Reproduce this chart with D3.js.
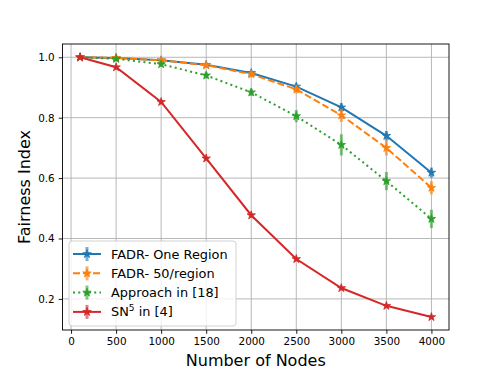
<!DOCTYPE html>
<html>
<head>
<meta charset="utf-8">
<script src="https://cdn.jsdelivr.net/npm/d3@7"></script>
<style>
body{margin:0;background:#fff;}
svg text{font-family:"DejaVu Sans",sans-serif;fill:#000;}
</style>
</head>
<body>
<div id="chart"></div>
<script>
var nodes = [100, 500, 1000, 1500, 2000, 2500, 3000, 3500, 4000];
var oneRegion = [1.0, 0.998, 0.99, 0.975, 0.948, 0.903, 0.834, 0.74, 0.618];
var oneRegionErr = [0, 0.003, 0.005, 0.006, 0.008, 0.01, 0.015, 0.016, 0.017];
var perRegion = [1.0, 0.998, 0.99, 0.974, 0.944, 0.894, 0.808, 0.70, 0.568];
var perRegionErr = [0, 0.004, 0.006, 0.008, 0.01, 0.014, 0.022, 0.025, 0.022];
var approach18 = [1.0, 0.995, 0.977, 0.94, 0.884, 0.805, 0.71, 0.59, 0.465];
var approach18Err = [0, 0.006, 0.008, 0.01, 0.012, 0.02, 0.035, 0.03, 0.03];
var sn5 = [1.0, 0.967, 0.852, 0.665, 0.477, 0.332, 0.236, 0.177, 0.14];
var sn5Err = [0, 0.004, 0.005, 0.005, 0.005, 0.004, 0.004, 0.004, 0.003];
var xTicks = [0, 500, 1000, 1500, 2000, 2500, 3000, 3500, 4000];
var yTicks = [0.2, 0.4, 0.6, 0.8, 1.0];

var series = [
    {name:"FADR- One Region", vals:oneRegion, err:oneRegionErr, color:"#1f77b4", dash:null},
    {name:"FADR- 50/region", vals:perRegion, err:perRegionErr, color:"#ff7f0e", dash:"7,3"},
    {name:"Approach in [18]", vals:approach18, err:approach18Err, color:"#2ca02c", dash:"2,3.3"},
    {name:"SN5", vals:sn5, err:sn5Err, color:"#d62728", dash:null}
];

var width = 498, height = 373;
var margin = {top:44, right:49, bottom:43, left:62.5};
var plotWidth = width - margin.left - margin.right;
var plotHeight = height - margin.top - margin.bottom;

var svg = d3.select('#chart').append('svg').attr('width',width).attr('height',height);
var plotArea = svg.append('g').attr("transform","translate("+margin.left+","+margin.top+")");

var xs = d3.scaleLinear().domain([-95, 4195]).range([0, plotWidth]);
var ys = d3.scaleLinear().domain([0.097, 1.044]).range([plotHeight, 0]);

// grid
plotArea.selectAll('line.gx').data(xTicks).enter().append('line')
    .attr('x1',function(d){return xs(d);}).attr('x2',function(d){return xs(d);})
    .attr('y1',0).attr('y2',plotHeight)
    .attr('stroke','#b0b0b0').attr('stroke-width',0.9);
plotArea.selectAll('line.gy').data(yTicks).enter().append('line')
    .attr('y1',function(d){return ys(d);}).attr('y2',function(d){return ys(d);})
    .attr('x1',0).attr('x2',plotWidth)
    .attr('stroke','#b0b0b0').attr('stroke-width',0.9);

var star = d3.symbol().type(d3.symbolStar).size(22);

// series
var line = d3.line().x(function(d){return xs(d.x);}).y(function(d){return ys(d.y);});
series.forEach(function(s){
    var pts = nodes.map(function(n,i){return {x:n, y:s.vals[i], e:s.err[i]};});
    var g = plotArea.append('g');
    g.selectAll('line.err').data(pts).enter().append('line')
        .attr('x1',function(d){return xs(d.x);}).attr('x2',function(d){return xs(d.x);})
        .attr('y1',function(d){return ys(d.y - d.e);}).attr('y2',function(d){return ys(d.y + d.e);})
        .attr('stroke',s.color).attr('stroke-width',3).attr('stroke-opacity',0.6);
    g.append('path').datum(pts).attr('d',line)
        .attr('fill','none').attr('stroke',s.color).attr('stroke-width',2)
        .attr('stroke-dasharray',s.dash);
    g.selectAll('path.mk').data(pts).enter().append('path')
        .attr('d',star)
        .attr('transform',function(d){return "translate("+xs(d.x)+","+ys(d.y)+")";})
        .attr('fill',s.color).attr('stroke',s.color).attr('stroke-width',0.8);
});

// spines
plotArea.append('rect').attr('width',plotWidth).attr('height',plotHeight)
    .attr('fill','none').attr('stroke','#000').attr('stroke-width',0.9);

// axes
var xAxis = svg.append('g')
    .attr("transform","translate("+margin.left+","+(margin.top+plotHeight)+")")
    .call(d3.axisBottom(xs).tickValues(xTicks).tickSize(3.8).tickPadding(4).tickFormat(d3.format('d')));
var yAxis = svg.append('g')
    .attr("transform","translate("+margin.left+","+margin.top+")")
    .call(d3.axisLeft(ys).tickValues(yTicks).tickSize(3.8).tickPadding(4).tickFormat(d3.format('.1f')));
[xAxis,yAxis].forEach(function(a){
    a.select('.domain').remove();
    a.selectAll('text').attr('font-size','10.4px').attr('fill','#222');
    a.selectAll('line').attr('stroke','#000').attr('stroke-width',0.9);
});

svg.append('text').attr('x',margin.left + plotWidth/2).attr('y',366)
    .attr('text-anchor','middle').attr('font-size','16px').text('Number of Nodes');
svg.append('text').attr('transform','translate(30,'+(margin.top+plotHeight/2)+') rotate(-90)')
    .attr('text-anchor','middle').attr('font-size','16px').text('Fairness Index');

// legend
var lg = svg.append('g').attr('transform','translate(69,241)');
lg.append('rect').attr('width',167).attr('height',85).attr('rx',3)
    .attr('fill','#fff').attr('fill-opacity',0.8).attr('stroke','#ccc').attr('stroke-width',0.9);
series.forEach(function(s,i){
    var y = 13 + i*19.3;
    var row = lg.append('g').attr('transform','translate(0,'+y+')');
    row.append('line').attr('x1',18).attr('x2',18).attr('y1',-7).attr('y2',7)
        .attr('stroke',s.color).attr('stroke-width',3).attr('stroke-opacity',0.6);
    row.append('line').attr('x1',4).attr('x2',32).attr('y1',0).attr('y2',0)
        .attr('stroke',s.color).attr('stroke-width',2).attr('stroke-dasharray',s.dash);
    row.append('path').attr('d',star).attr('transform','translate(18,0)')
        .attr('fill',s.color).attr('stroke',s.color).attr('stroke-width',0.8);
    var t = row.append('text').attr('x',42).attr('y',4.5).attr('font-size','12.9px');
    if(s.name === "SN5"){
        t.append('tspan').text('SN');
        t.append('tspan').attr('dy',-5).attr('font-size','9px').text('5');
        t.append('tspan').attr('dy',5).text(' in [4]');
    } else {
        t.text(s.name);
    }
});
</script>
</body>
</html>
